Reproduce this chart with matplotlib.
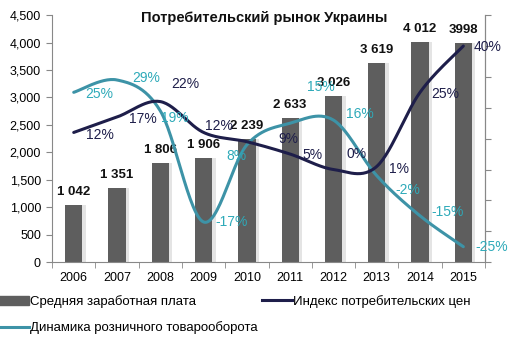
import numpy as np
import matplotlib
matplotlib.use("Agg")
import matplotlib.pyplot as plt
import matplotlib.patheffects as pe
from matplotlib.ticker import FuncFormatter, FixedLocator
from matplotlib.lines import Line2D
from matplotlib.patches import Patch

plt.rcParams['font.family'] = ['Liberation Sans', 'DejaVu Sans']

# data
years = ['2006', '2007', '2008', '2009', '2010', '2011', '2012', '2013', '2014', '2015']
wages = [1042, 1351, 1806, 1906, 2239, 2633, 3026, 3619, 4012, 3998]
wage_labels = ['1 042', '1 351', '1 806', '1 906', '2 239', '2 633', '3 026', '3 619', '4 012', '3998']
cpi = [12, 17, 22, 12, 9, 5, 0, 1, 25, 40]
retail = [25, 29, 19, -17, 8, 15, 16, -2, -15, -25]

# label offsets in pixels (layout only)
cpi_off = [(26, -3), (26, -2), (25, 18), (15, 6), (41, 3), (22, -1), (23, 16), (22, -3), (25, -2), (24, -1)]
retail_off = [(26, -2), (29, 2), (15, -7), (28, 0), (-10, -11), (31, 36), (26, 6), (31, -14), (28, 4), (28, 0)]

BAR = '#5e5e5e'
NAVY = '#1e1e4a'
TEAL = '#3d93a7'
TEAL_TXT = '#2eaab9'


def smooth(xs, ys, n=30):
    # Excel-like smoothed line (Catmull-Rom bezier)
    p = np.column_stack([xs, ys]).astype(float)
    out = []
    for i in range(len(p) - 1):
        p0 = p[i - 1] if i > 0 else p[i]
        p1, p2 = p[i], p[i + 1]
        p3 = p[i + 2] if i + 2 < len(p) else p[i + 1]
        c1 = p1 + (p2 - p0) / 6
        c2 = p2 - (p3 - p1) / 6
        t = np.linspace(0, 1, n)[:, None]
        seg = ((1 - t) ** 3) * p1 + 3 * ((1 - t) ** 2) * t * c1 + 3 * (1 - t) * t ** 2 * c2 + t ** 3 * p2
        out.append(seg if i == 0 else seg[1:])
    out = np.vstack(out)
    return out[:, 0], out[:, 1]


fig = plt.figure(figsize=(5.26, 3.44), dpi=100)
ax = fig.add_axes([0.099, 0.238, 0.823, 0.718])
x = np.arange(len(years))

bars = ax.bar(x, wages, width=0.4, color=BAR, zorder=2)
for b in bars:
    b.set_path_effects([pe.SimplePatchShadow(offset=(2.5, 0), shadow_rgbFace='#d2d2d2', alpha=0.6), pe.Normal()])

for xi, v, lab in zip(x, wages, wage_labels):
    ax.annotate(lab, (xi, v), xytext=(0, 13), textcoords='offset pixels',
                ha='center', va='center', fontsize=9.5, fontweight='bold', color='#111111', zorder=5)

ax.set_xlim(-0.5, 9.5)
ax.set_ylim(0, 4500)
ax.set_yticks(np.arange(0, 4501, 500))
ax.yaxis.set_major_formatter(FuncFormatter(lambda v, p: f'{int(v):,}'))
ax.set_xticks(x)
ax.set_xticklabels(years)
ax.xaxis.set_minor_locator(FixedLocator(np.arange(-0.5, 10, 1)))
ax.tick_params(axis='x', which='major', length=0, pad=7, labelsize=9)
ax.tick_params(axis='x', which='minor', length=4, color='#888888')
ax.tick_params(axis='y', length=4, color='#888888', labelsize=9, pad=4)
ax.spines['top'].set_visible(False)
for s in ['left', 'bottom', 'right']:
    ax.spines[s].set_color('#888888')

ax2 = ax.twinx()
ax2.set_ylim(-30, 50)
ax2.set_yticks(np.arange(-30, 51, 10))
ax2.set_yticklabels([])
ax2.tick_params(axis='y', length=4, color='#888888')
ax2.spines['top'].set_visible(False)
ax2.spines['right'].set_color('#888888')
ax2.spines['left'].set_visible(False)
ax2.spines['bottom'].set_visible(False)

sx, sy = smooth(x, retail)
ax2.plot(sx, sy, color=TEAL, lw=2.2, solid_capstyle='round', zorder=3)
sx, sy = smooth(x, cpi)
ax2.plot(sx, sy, color=NAVY, lw=2.2, solid_capstyle='round', zorder=4)

for xi, v, off in zip(x, retail, retail_off):
    ax2.annotate(f'{v}%', (xi, v), xytext=off, textcoords='offset pixels',
                 ha='center', va='center', fontsize=10, color=TEAL_TXT, zorder=6)
for xi, v, off in zip(x, cpi, cpi_off):
    ax2.annotate(f'{v}%', (xi, v), xytext=off, textcoords='offset pixels',
                 ha='center', va='center', fontsize=10, color=NAVY, zorder=6)

fig.text(264 / 526, 1 - 18 / 344, 'Потребительский рынок Украины', ha='center', va='center',
         fontsize=10.5, fontweight='bold', color='#111111')

handles = [Patch(color=BAR), Line2D([], [], color=TEAL, lw=2.2), Line2D([], [], color=NAVY, lw=2.2)]
labels = ['Средняя заработная плата', 'Динамика розничного товарооборота', 'Индекс потребительских цен']
fig.legend(handles, labels, loc='upper left', bbox_to_anchor=(-0.003, 0.142), ncol=2, frameon=False,
           fontsize=9.5, handlelength=2.3, handletextpad=0.1, columnspacing=0.3, labelspacing=1.0,
           borderaxespad=0, borderpad=0)

fig.savefig('out.png', dpi=100)
